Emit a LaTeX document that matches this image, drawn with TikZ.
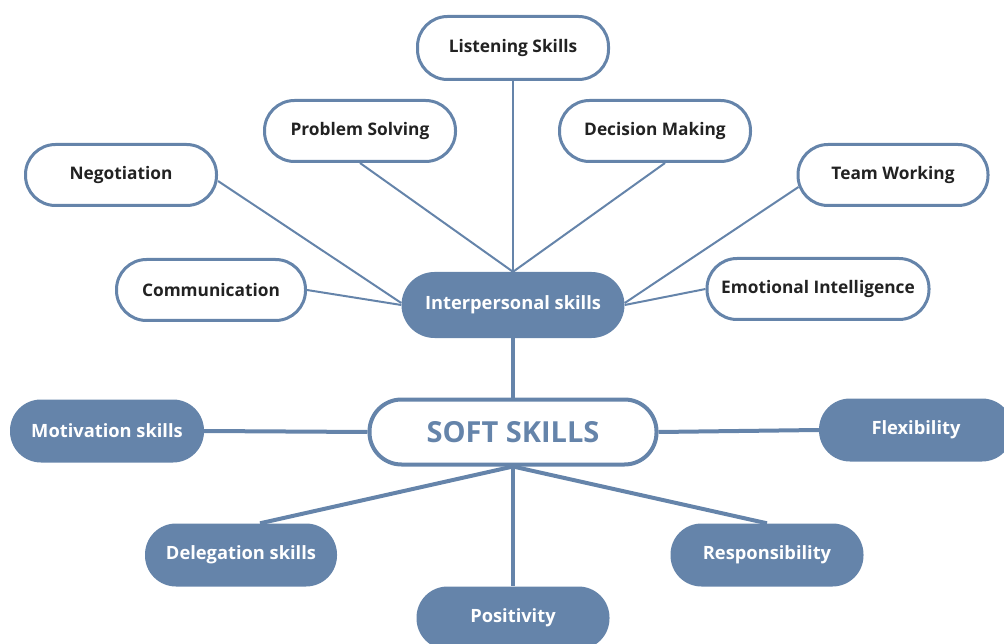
\documentclass[tikz,border=0pt]{standalone}
\usepackage{fontspec}
\setmainfont{Open Sans}
\usetikzlibrary{positioning, calc, backgrounds}

\definecolor{skillblue}{HTML}{6584AA}
\definecolor{skilltext}{HTML}{222222}

\tikzset{
    outlinebox/.style={fill=white, draw=skillblue, line width=3pt, rounded corners=30pt, minimum width=191pt, minimum height=61pt, text=skilltext, font=\bfseries\fontsize{17.3}{20}\selectfont},
    filledbox/.style={fill=skillblue, draw=none, rounded corners=31pt, minimum width=194pt, minimum height=63pt, text=white, font=\bfseries\fontsize{18.3}{22}\selectfont},
    thinlink/.style={draw=skillblue, line width=2pt},
    thicklink/.style={draw=skillblue, line width=4pt}
}

\begin{document}
\begin{tikzpicture}[x=1pt, y=-1pt]
    		\clip (0,0) rectangle (1004,644);

    		% Soft skills (centre)
    		\node (SoftSkills) at (513,432) [outlinebox, line width=4pt, minimum width=287pt, minimum height=65pt, rounded corners=32pt, text=skillblue, font=\bfseries\fontsize{29}{32}\selectfont]{SOFT SKILLS};

    		% Interpersonal skills
    		\node (Interpersonal) at (513,305) [filledbox, minimum width=223pt, minimum height=66pt, rounded corners=33pt]{Interpersonal skills};

    		%%%%%%%%%%%%%%%%%%%
    		% Interpersonal branches
    		\node (ListeningSkills) at (513,48) [outlinebox, minimum height=63pt]{Listening Skills};
    		\node (ProblemSolving) at (360,131) [outlinebox]{Problem Solving};
    		\node (DecisionMaking) at (655,131) [outlinebox]{Decision Making};
    		\node (Negotiation) at (121,175) [outlinebox]{Negotiation};
    		\node (TeamWorking) at (893,175) [outlinebox, minimum width=190pt]{Team Working};
    		\node (Communication) at (211,290) [outlinebox, minimum width=189pt]{Communication};
    		\node (EmotionalIntelligence) at (818,289) [outlinebox, minimum width=222pt]{Emotional Intelligence};

    		%%%%%%%%%%%%%%%%%%%
    		% Soft skills branches
    		\node (Motivation) at (107,431) [filledbox]{Motivation skills};
    		\node (Flexibility) at (916,430) [filledbox]{Flexibility};
    		\node (Delegation) at (241,555) [filledbox, minimum width=192pt]{Delegation skills};
    		\node (Responsibility) at (767,555) [filledbox, minimum width=193pt]{Responsibility};
    		\node (Positivity) at (513,618) [filledbox, minimum width=193pt]{Positivity};

    		%%%%%%%%%%%%%%%%%%%
    		% Links
    		\begin{scope}[on background layer]
    		\draw[thinlink] (ListeningSkills.south) -- (Interpersonal.north);
    		\draw[thinlink] (ProblemSolving.south) -- (Interpersonal.north);
    		\draw[thinlink] ($(DecisionMaking.south)+(10,0)$) -- (Interpersonal.north);
    		\draw[thinlink] ($(Negotiation.east)+(0,6)$) -- ($(Interpersonal.west)+(0,-2)$);
    		\draw[thinlink] (Communication.east) -- (Interpersonal.west);
    		\draw[thinlink] ($(TeamWorking.west)+(2,12)$) -- ($(Interpersonal.east)+(0,-2)$);
    		\draw[thinlink] (EmotionalIntelligence.west) -- (Interpersonal.east);

    		\draw[thicklink] (Interpersonal.south) -- (SoftSkills.north);
    		\draw[thicklink] (SoftSkills.west) -- (Motivation.east);
    		\draw[thicklink] (SoftSkills.east) -- (Flexibility.west);
    		\draw[thicklink] (SoftSkills.south) -- ($(Delegation.north)+(19,0)$);
    		\draw[thicklink] (SoftSkills.south) -- (Responsibility.north);
    		\draw[thicklink] (SoftSkills.south) -- (Positivity.north);
    		\end{scope}
\end{tikzpicture}
\end{document}
